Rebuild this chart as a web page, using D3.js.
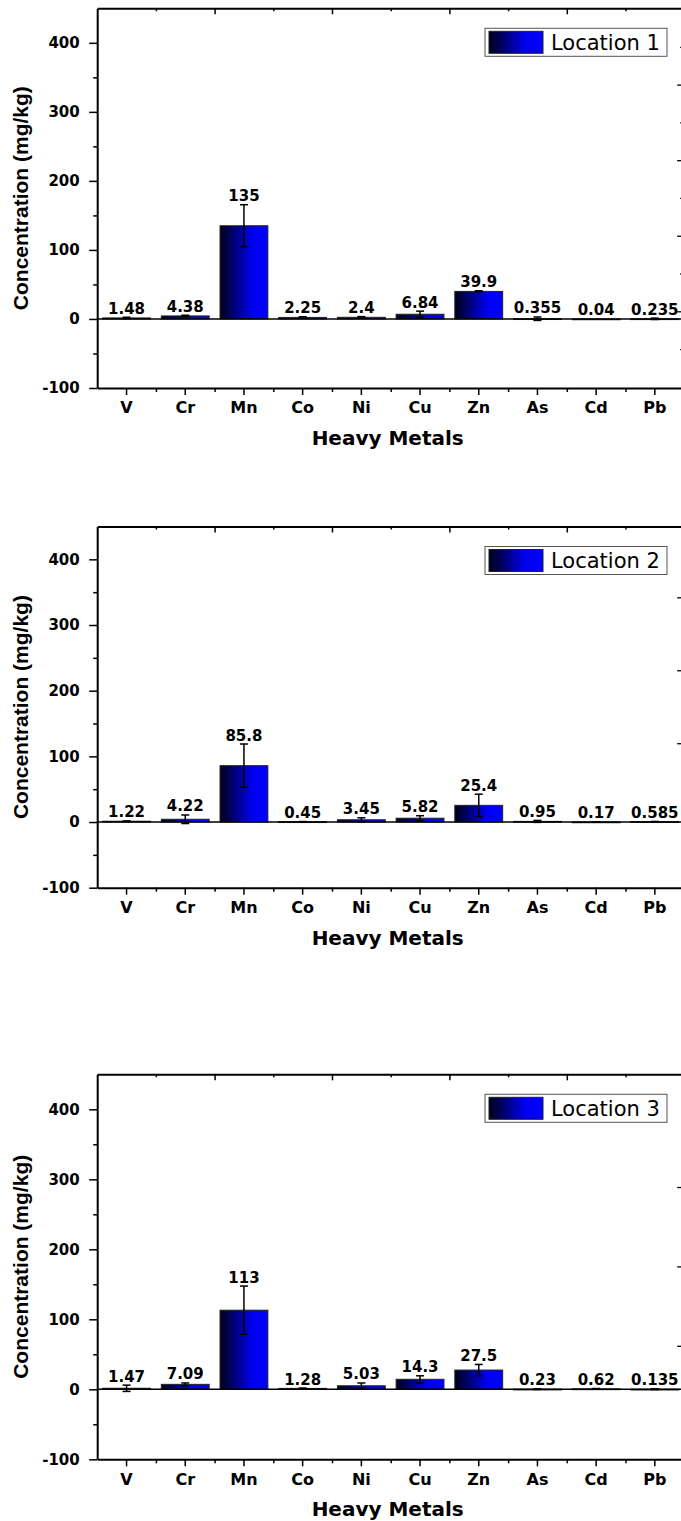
<!DOCTYPE html>
<html lang="en">
  <head>
    <meta charset="utf-8">
    <title>Heavy metal concentrations by location</title>
    <script type="text/javascript" src="https://cdn.jsdelivr.net/npm/d3@7/dist/d3.min.js"></script>
    <style type="text/css">
      body {
        margin: 0;
        background: #fff;
      }
      .tick text {
        font-family: "DejaVu Sans", sans-serif;
        font-weight: bold;
        font-size: 15px;
        fill: #000;
      }
      .xcat .tick text {
        font-size: 16px;
      }
      .domain, .tick line {
        stroke: #000;
      }
    </style>
  </head>
  <body>
    <script type="text/javascript">

      // Data
      var categories = ["V", "Cr", "Mn", "Co", "Ni", "Cu", "Zn", "As", "Cd", "Pb"];

      var loc1Values = [1.48, 4.38, 135, 2.25, 2.4, 6.84, 39.9, 0.355, 0.04, 0.235];
      var loc1Errors = [1, 1, 30.5, 1, 1, 4.5, 1, 2.5, 0, 1];

      var loc2Values = [1.22, 4.22, 85.8, 0.45, 3.45, 5.82, 25.4, 0.95, 0.17, 0.585];
      var loc2Errors = [0.5, 6.5, 33, 0.3, 3, 3.8, 17, 1.5, 0.2, 0.3];

      var loc3Values = [1.47, 7.09, 113, 1.28, 5.03, 14.3, 27.5, 0.23, 0.62, 0.135];
      var loc3Errors = [4.5, 2, 34.5, 0.5, 4, 5, 8, 0.5, 0.5, 0.5];

      var locationNames = ["Location 1", "Location 2", "Location 3"];

      var yMajorTicks = [-100, 0, 100, 200, 300, 400];
      var yMinorTicks = [-50, 50, 150, 250, 350];

      //Width and height
      var w = 681;
      var h = 1521;
      var x0 = 97.2, x1 = 684.2;

      // each panel: data + where it sits on the page
      var panels = [
        { name: locationNames[0], values: loc1Values, errors: loc1Errors,
          top: 8.3, bottom: 388, rDomain: [-1.03, 9.02], rTicks: d3.range(0, 9) },
        { name: locationNames[1], values: loc2Values, errors: loc2Errors,
          top: 526.5, bottom: 887.7, rDomain: [-1.98, 2.97], rTicks: [0, 1, 2] },
        { name: locationNames[2], values: loc3Values, errors: loc3Errors,
          top: 1074.3, bottom: 1459.3, rDomain: [-1.43, 3.42], rTicks: [0, 1, 2] }
      ];

      var svg = d3.select("body")
            .append("svg")
            .attr("width", w)
            .attr("height", h);

      svg.append("rect").attr("width", w).attr("height", h).attr("fill", "#fff");

      // bar gradient (dark navy -> blue, left to right)
      var grad = svg.append("defs").append("linearGradient")
            .attr("id", "barGrad")
            .attr("x1", 0).attr("x2", 1).attr("y1", 0).attr("y2", 0);
      grad.append("stop").attr("offset", "0%").attr("stop-color", "#000018");
      grad.append("stop").attr("offset", "68%").attr("stop-color", "#0000f0");
      grad.append("stop").attr("offset", "100%").attr("stop-color", "#0000ff");

      var xScale = d3.scaleBand()
            .domain(categories)
            .range([x0, x1])
            .padding(0);
      var xEdge = d3.scaleLinear().domain([0, categories.length]).range([x0, x1]);
      var barW = xScale.bandwidth() * 0.815;
      var capW = 8;

      panels.forEach(function(p) {
        var g = svg.append("g");
        var yScale = d3.scaleLinear().domain([-100, 450]).range([p.bottom, p.top]);
        var rows = categories.map(function(c, i) {
          return { c: c, v: p.values[i], e: p.errors[i] };
        });

        //Create bars
        g.selectAll("rect.bar")
         .data(rows)
         .enter()
         .append("rect")
         .attr("class", "bar")
         .attr("x", function(d) { return xScale(d.c) + (xScale.bandwidth() - barW) / 2; })
         .attr("y", function(d) { return yScale(d.v); })
         .attr("width", barW)
         .attr("height", function(d) { return Math.max(yScale(0) - yScale(d.v), 0.8); })
         .attr("fill", "url(#barGrad)")
         .attr("stroke", "#222")
         .attr("stroke-width", 1);

        // zero line
        g.append("line")
         .attr("x1", x0).attr("x2", x1)
         .attr("y1", yScale(0)).attr("y2", yScale(0))
         .attr("stroke", "#000").attr("stroke-width", 1.6);

        // error bars
        var eb = g.selectAll("g.err")
          .data(rows.filter(function(d) { return d.e > 0; }))
          .enter().append("g")
          .attr("class", "err")
          .attr("stroke", "#000")
          .attr("stroke-width", 1.5);
        eb.append("line")
          .attr("x1", function(d) { return xScale(d.c) + xScale.bandwidth() / 2; })
          .attr("x2", function(d) { return xScale(d.c) + xScale.bandwidth() / 2; })
          .attr("y1", function(d) { return yScale(d.v - d.e); })
          .attr("y2", function(d) { return yScale(d.v + d.e); });
        [-1, 1].forEach(function(s) {
          eb.append("line")
            .attr("x1", function(d) { return xScale(d.c) + xScale.bandwidth() / 2 - capW / 2; })
            .attr("x2", function(d) { return xScale(d.c) + xScale.bandwidth() / 2 + capW / 2; })
            .attr("y1", function(d) { return yScale(d.v + s * d.e); })
            .attr("y2", function(d) { return yScale(d.v + s * d.e); });
        });

        // value labels
        g.selectAll("text.val")
         .data(rows)
         .enter()
         .append("text")
         .attr("class", "val")
         .attr("x", function(d) { return xScale(d.c) + xScale.bandwidth() / 2; })
         .attr("y", function(d) { return yScale(d.v + d.e) - 3.5; })
         .attr("text-anchor", "middle")
         .attr("font-family", "DejaVu Sans, sans-serif")
         .attr("font-weight", "bold")
         .attr("font-size", 15)
         .attr("fill", "#000")
         .text(function(d) { return String(d.v); });

        // left axis
        g.append("g")
         .attr("transform", "translate(" + x0 + ",0)")
         .call(d3.axisLeft(yScale).tickValues(yMajorTicks)
                 .tickFormat(function(d) { return String(d); })
                 .tickSize(8).tickPadding(9.5).tickSizeOuter(0))
         .call(function(a) { a.select(".domain").attr("stroke-width", 2); })
         .selectAll(".tick line").attr("stroke-width", 1.5);
        g.append("g")
         .attr("transform", "translate(" + x0 + ",0)")
         .call(d3.axisLeft(yScale).tickValues(yMinorTicks).tickSize(4).tickFormat("").tickSizeOuter(0))
         .call(function(a) { a.select(".domain").remove(); })
         .selectAll(".tick line").attr("stroke-width", 1.5);

        // bottom axis
        g.append("g")
         .attr("class", "xcat")
         .attr("transform", "translate(0," + p.bottom + ")")
         .call(d3.axisBottom(xScale).tickSize(7).tickPadding(7).tickSizeOuter(0))
         .call(function(a) { a.select(".domain").attr("stroke-width", 2); })
         .selectAll(".tick line").attr("stroke-width", 1.5);
        g.append("g")
         .attr("transform", "translate(0," + p.bottom + ")")
         .call(d3.axisBottom(xEdge).tickValues(d3.range(1, categories.length)).tickSize(4).tickFormat("").tickSizeOuter(0))
         .call(function(a) { a.select(".domain").remove(); })
         .selectAll(".tick line").attr("stroke-width", 1.5);

        // top axis, ticks pointing inward
        g.append("g")
         .attr("transform", "translate(0," + p.top + ")")
         .call(d3.axisTop(xEdge).tickValues([2, 4, 6, 8]).tickSize(-6).tickFormat("").tickSizeOuter(0))
         .call(function(a) { a.select(".domain").attr("stroke-width", 2); })
         .selectAll(".tick line").attr("stroke-width", 1.5);
        g.append("g")
         .attr("transform", "translate(0," + p.top + ")")
         .call(d3.axisTop(xEdge).tickValues([1, 3, 5, 7, 9]).tickSize(-3).tickFormat("").tickSizeOuter(0))
         .call(function(a) { a.select(".domain").remove(); })
         .selectAll(".tick line").attr("stroke-width", 1.5);

        // right axis (secondary scale, only its inward ticks show)
        var yRight = d3.scaleLinear().domain(p.rDomain).range([p.bottom, p.top]);
        g.append("g")
         .attr("transform", "translate(" + x1 + ",0)")
         .call(d3.axisRight(yRight).tickValues(p.rTicks).tickSize(-6).tickFormat("").tickSizeOuter(0))
         .call(function(a) { a.select(".domain").attr("stroke-width", 2); })
         .selectAll(".tick line")
         .attr("stroke-width", 1.3)
         .attr("x2", function(d) { return p.rTicks.length > 3 && d % 2 === 0 ? -4 : -7; });

        // axis titles
        g.append("text")
         .attr("transform", "translate(28," + ((p.top + p.bottom) / 2) + ") rotate(-90)")
         .attr("text-anchor", "middle")
         .attr("font-family", "Liberation Sans, Arial, sans-serif")
         .attr("font-weight", "bold")
         .attr("font-size", 21)
         .text("Concentration (mg/kg)");

        g.append("text")
         .attr("x", (x0 + x1) / 2 - 3)
         .attr("y", p.bottom + 57)
         .attr("text-anchor", "middle")
         .attr("font-family", "DejaVu Sans, sans-serif")
         .attr("font-weight", "bold")
         .attr("font-size", 20)
         .text("Heavy Metals");

        // legend
        var lg = g.append("g").attr("transform", "translate(485," + (p.top + 20) + ")");
        lg.append("rect")
          .attr("width", 182).attr("height", 28)
          .attr("fill", "#fff").attr("stroke", "#555").attr("stroke-width", 1);
        lg.append("rect")
          .attr("x", 4).attr("y", 3).attr("width", 54).attr("height", 22)
          .attr("fill", "url(#barGrad)").attr("stroke", "#222").attr("stroke-width", 1);
        lg.append("text")
          .attr("x", 66).attr("y", 21.5)
          .attr("font-family", "DejaVu Sans, sans-serif")
          .attr("font-size", 21)
          .text(p.name);
      });

    </script>
  </body>
</html>
